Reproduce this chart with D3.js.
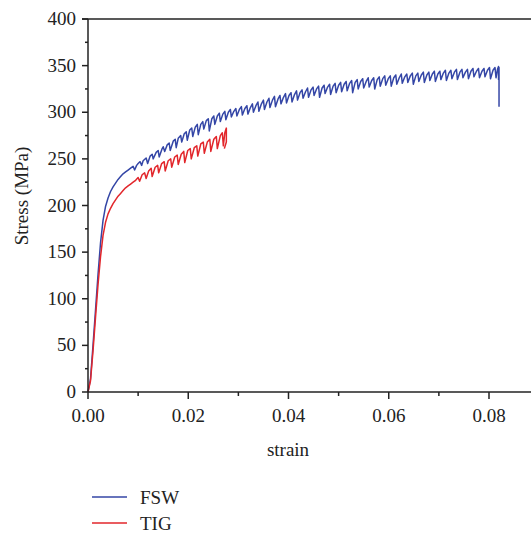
<!DOCTYPE html>
<html>
<head>
<meta charset="utf-8">
<script src="https://cdn.jsdelivr.net/npm/d3@7"></script>
<style>
  body { margin: 0; background: #fff; }
  svg { display: block; }
</style>
</head>
<body>
<svg width="531" height="535"></svg>
<script>
// stress-strain curves, [strain, stress MPa]
const fsw = [
  [0,0],[0.0005,14],[0.001,50],[0.0015,88],[0.002,126],[0.0025,160],[0.003,184],[0.0035,199],
  [0.004,208],[0.0045,215],[0.005,220],[0.0055,224],[0.006,228],[0.0065,231],[0.007,234],
  [0.0075,236],[0.008,238],[0.0085,240],[0.009,242],[0.0093,238],[0.0097,243],[0.010,245],[0.0104,247],
  [0.0107,243],[0.011,248],[0.0116,251],[0.0119,245],[0.0124,253],[0.0128,255],[0.013,250],
  [0.0136,257],[0.014,259],[0.0142,252],[0.0148,261],[0.015,263],[0.0153,258],[0.0158,265],
  [0.0162,267],[0.0164,259],[0.017,269],[0.0174,271],[0.0176,262],[0.018,272],[0.0185,275],
  [0.0187,268],[0.0192,277],[0.0196,279],[0.0198,270],[0.0203,281],[0.0207,283],[0.0209,274],
  [0.0214,284],[0.0218,287],[0.022,276],[0.0225,287],[0.0229,290],[0.0231,282],[0.0236,291],
  [0.024,293],[0.0242,280],[0.0247,293],[0.0251,296],[0.0253,287],[0.0258,296],[0.0262,299],
  [0.0264,290],[0.0269,298],[0.0273,301],[0.0275,292],[0.028,300],[0.0284,303],[0.0286,295],
  [0.0291,301],[0.0295,304],[0.0297,296],[0.0302,303],[0.0306,306],[0.0308,297],[0.0313,304],
  [0.0317,307],[0.0319,298],[0.0324,305],[0.0328,309],[0.033,300],[0.0335,307],[0.0339,311],
  [0.0341,301],[0.0346,309],[0.035,313],[0.0352,303],[0.0357,311],[0.0361,315],[0.0363,305],
  [0.0368,313],[0.0372,317],[0.0374,306],[0.0379,314],[0.0383,318],[0.0385,309],[0.039,316],
  [0.0394,320],[0.0396,310],[0.0401,318],[0.0405,321],[0.0407,311],[0.0412,319],[0.0416,323],
  [0.0418,313],[0.0423,321],[0.0427,324],[0.0429,315],[0.0434,322],[0.0438,326],[0.044,316],
  [0.0445,324],[0.0449,327],[0.0451,318],[0.0456,325],[0.046,328],[0.0462,316],[0.0467,326],
  [0.0471,329],[0.0473,320],[0.0478,327],[0.0482,330],[0.0484,319],[0.0489,328],[0.0493,331],
  [0.0495,321],[0.05,329],[0.0504,332],[0.0506,322],[0.0511,330],[0.0515,333],[0.0517,323],
  [0.0522,331],[0.0526,334],[0.0528,321],[0.0533,332],[0.0537,335],[0.0539,325],[0.0544,333],
  [0.0548,336],[0.055,326],[0.0555,333],[0.0559,337],[0.0561,327],[0.0566,334],[0.057,337],
  [0.0572,325],[0.0577,335],[0.0581,338],[0.0583,328],[0.0588,336],[0.0592,339],[0.0594,329],
  [0.0599,336],[0.0603,339],[0.0605,328],[0.061,337],[0.0614,340],[0.0616,330],[0.0621,337],
  [0.0625,341],[0.0627,331],[0.0632,338],[0.0636,341],[0.0638,332],[0.0643,339],[0.0647,342],
  [0.0649,330],[0.0654,339],[0.0658,342],[0.066,333],[0.0665,340],[0.0669,343],[0.0671,332],
  [0.0676,340],[0.068,343],[0.0682,334],[0.0687,341],[0.0691,344],[0.0693,333],[0.0698,341],
  [0.0702,344],[0.0704,335],[0.0709,342],[0.0713,345],[0.0715,334],[0.072,342],[0.0724,345],
  [0.0726,336],[0.0731,343],[0.0735,346],[0.0737,335],[0.0742,343],[0.0746,346],[0.0748,337],
  [0.0753,343],[0.0757,346],[0.0759,336],[0.0764,344],[0.0768,347],[0.077,338],[0.0775,344],
  [0.0779,347],[0.0781,337],[0.0786,344],[0.079,347],[0.0792,338],[0.0797,345],[0.0801,348],
  [0.0803,336],[0.0808,345],[0.0812,348],[0.0814,337],[0.0817,346],[0.0819,349],[0.0819,335],
  [0.0820,348],[0.0820,306]
];

const tig = [
  [0,0],[0.0005,12],[0.001,44],[0.0015,80],[0.002,115],[0.0025,145],[0.003,168],[0.0035,182],
  [0.004,191],[0.0045,197],[0.005,202],[0.0055,206],[0.006,210],[0.0065,213],[0.007,216],
  [0.0075,219],[0.008,221],[0.0085,223],[0.009,225],[0.0095,227],[0.010,230],[0.0103,226],
  [0.0108,233],[0.0113,235],[0.0116,229],[0.0121,237],[0.0126,240],[0.0128,231],[0.0134,241],
  [0.0139,243],[0.0141,235],[0.0147,245],[0.0152,247],[0.0154,237],[0.016,248],[0.0165,250],
  [0.0167,241],[0.0173,252],[0.0178,254],[0.018,244],[0.0186,255],[0.0191,258],[0.0193,246],
  [0.0199,259],[0.0204,261],[0.0206,250],[0.0212,262],[0.0217,264],[0.0219,253],[0.0225,266],
  [0.023,268],[0.0232,256],[0.0238,268],[0.0243,271],[0.0245,258],[0.0251,271],[0.0256,274],
  [0.0258,261],[0.0264,275],[0.0268,278],[0.027,264],[0.0273,278],[0.0276,283],
  [0.0276,268],[0.0272,261]
];

const xTicks = [0, 0.02, 0.04, 0.06, 0.08];
const yTicks = [0, 50, 100, 150, 200, 250, 300, 350, 400];
const seriesNames = ["FSW", "TIG"];
const seriesColors = ["#3446a6", "#e2262b"];

const svg = d3.select("svg");
const font = "'Liberation Serif', 'Times New Roman', serif";

const x = d3.scaleLinear().domain([0, 0.08]).range([88, 489]);
const y = d3.scaleLinear().domain([0, 400]).range([392, 19]);

// curves
const line = d3.line().x(d => x(d[0])).y(d => y(d[1]));

svg.append("g")
    .attr("fill", "none")
    .attr("stroke-width", 1.5)
    .attr("stroke-linejoin", "round")
    .selectAll("path")
    .data([fsw, tig])
    .join("path")
    .attr("stroke", (d, i) => seriesColors[i])
    .attr("d", line);

// top frame line, runs off to the right edge
svg.append("line")
    .attr("x1", 82).attr("x2", 531)
    .attr("y1", y(400)).attr("y2", y(400))
    .attr("stroke", "#222").attr("stroke-width", 1.5);

// x axis
const xMinor = [0.01, 0.03, 0.05, 0.07];
const gx = svg.append("g")
    .attr("transform", `translate(0,${y(0)})`)
    .attr("font-family", font);

gx.append("line")
    .attr("x1", x(0)).attr("x2", 531)
    .attr("stroke", "#222").attr("stroke-width", 1.5);

gx.selectAll(".maj")
    .data(xTicks)
    .join("line")
    .attr("class", "maj")
    .attr("x1", d => x(d)).attr("x2", d => x(d))
    .attr("y1", 0).attr("y2", 7)
    .attr("stroke", "#222").attr("stroke-width", 1.5);

gx.selectAll(".min")
    .data(xMinor)
    .join("line")
    .attr("class", "min")
    .attr("x1", d => x(d)).attr("x2", d => x(d))
    .attr("y1", 0).attr("y2", 4)
    .attr("stroke", "#222").attr("stroke-width", 1.5);

gx.selectAll("text")
    .data(xTicks)
    .join("text")
    .attr("x", d => x(d))
    .attr("y", 30)
    .attr("text-anchor", "middle")
    .attr("font-size", 19)
    .attr("fill", "#222")
    .text(d => d3.format(".2f")(d));

// y axis
const yMinor = [25, 75, 125, 175, 225, 275, 325, 375];
const gy = svg.append("g")
    .attr("transform", `translate(${x(0)},0)`)
    .attr("font-family", font);

gy.append("line")
    .attr("y1", y(0)).attr("y2", y(400))
    .attr("stroke", "#222").attr("stroke-width", 1.5);

gy.selectAll(".maj")
    .data(yTicks)
    .join("line")
    .attr("class", "maj")
    .attr("x1", -6).attr("x2", 0)
    .attr("y1", d => y(d)).attr("y2", d => y(d))
    .attr("stroke", "#222").attr("stroke-width", 1.5);

gy.selectAll(".min")
    .data(yMinor)
    .join("line")
    .attr("class", "min")
    .attr("x1", -3).attr("x2", 0)
    .attr("y1", d => y(d)).attr("y2", d => y(d))
    .attr("stroke", "#222").attr("stroke-width", 1.5);

gy.selectAll("text")
    .data(yTicks)
    .join("text")
    .attr("x", -12)
    .attr("y", d => y(d))
    .attr("dy", "0.32em")
    .attr("text-anchor", "end")
    .attr("font-size", 19)
    .attr("fill", "#222")
    .text(d => d);

// axis titles
svg.append("text")
    .attr("x", 288).attr("y", 456)
    .attr("text-anchor", "middle")
    .attr("font-family", font).attr("font-size", 19).attr("fill", "#222")
    .text("strain");

svg.append("text")
    .attr("transform", "translate(28,196) rotate(-90)")
    .attr("text-anchor", "middle")
    .attr("font-family", font).attr("font-size", 19).attr("fill", "#222")
    .text("Stress (MPa)");

// legend
const legend = svg.append("g")
    .selectAll("g")
    .data(seriesNames)
    .join("g")
    .attr("transform", (d, i) => `translate(92,${497 + i * 26})`);

legend.append("line")
    .attr("x1", 0).attr("x2", 35)
    .attr("stroke", (d, i) => seriesColors[i])
    .attr("stroke-width", 1.3);

legend.append("text")
    .attr("x", 48).attr("dy", "0.35em")
    .attr("font-family", font).attr("font-size", 19).attr("fill", "#222")
    .text(d => d);
</script>
</body>
</html>
